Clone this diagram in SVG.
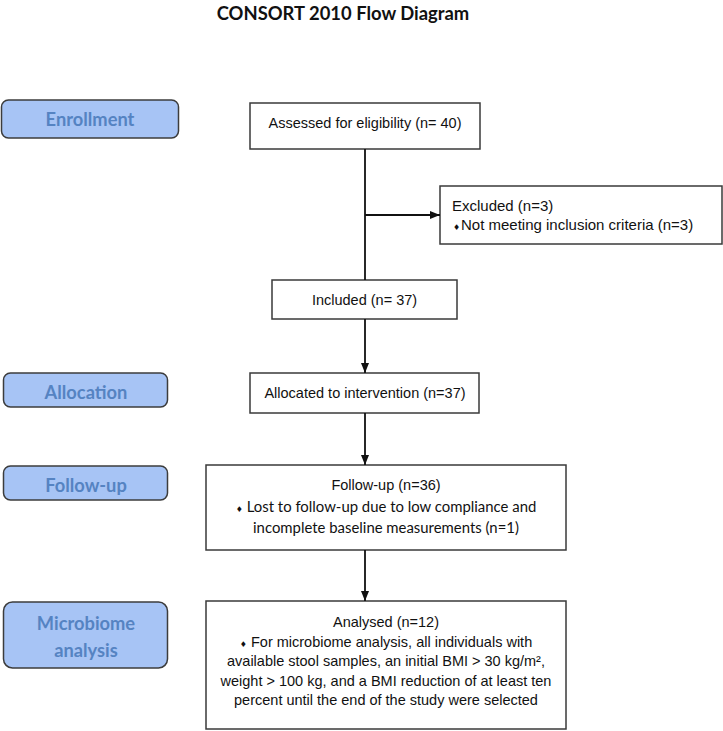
<svg xmlns="http://www.w3.org/2000/svg" width="723" height="731" viewBox="0 0 723 731">
<style>
.stage rect{fill:#a7c4f5;stroke:#3c3c3c;stroke-width:1.5}
.stage text{font-family:Lato,"Open Sans",sans-serif;font-weight:700;font-size:18.3px;fill:#5583c2;text-anchor:middle}
.box rect{fill:#fff;stroke:#3a3a3a;stroke-width:1.5}
.box text{font-family:"Liberation Sans",Arial,sans-serif;font-size:14.5px;fill:#111}
.box text.exc{font-size:15px}
.box text.cal{font-family:Lato,"Open Sans",sans-serif;font-size:14.9px}
.mid{text-anchor:middle}
.dia{font-family:"DejaVu Sans",sans-serif;font-size:8px}
.conn line{stroke:#111;stroke-width:1.8;fill:none}
.title{font-family:Lato,"Open Sans",sans-serif;font-weight:700;font-size:18.4px;fill:#111;text-anchor:middle}
</style>
<defs>
<marker id="ah" markerUnits="userSpaceOnUse" markerWidth="10" markerHeight="10" viewBox="0 0 10 10" refX="10" refY="5" orient="auto">
<path d="M0,1 L10,5 L0,9 z" fill="#111"/>
</marker>
</defs>
<text class="title" x="343" y="20">CONSORT 2010 Flow Diagram</text>

<g id="stage-enrollment" class="stage"><rect x="1.5" y="100" width="177" height="38" rx="7"/><text x="90" y="125.5">Enrollment</text></g>
<g id="stage-allocation" class="stage"><rect x="3.5" y="373" width="164" height="34" rx="7"/><text x="86" y="398.5">Allocation</text></g>
<g id="stage-followup" class="stage"><rect x="3.5" y="466" width="164" height="34" rx="7"/><text x="86" y="491.5">Follow-up</text></g>
<g id="stage-microbiome" class="stage"><rect x="3.5" y="602" width="164" height="66" rx="9"/><text x="86" y="629.5">Microbiome</text><text x="86" y="656.5">analysis</text></g>

<g id="assessed" class="box"><rect x="250" y="103" width="230" height="46"/><text class="mid" x="365" y="128">Assessed for eligibility (n= 40)</text></g>
<g id="excluded" class="box"><rect x="440" y="186" width="282" height="58"/><text class="exc" x="452" y="211">Excluded (n=3)</text><text class="exc" x="453" y="230"><tspan class="dia">♦</tspan><tspan x="461">Not meeting inclusion criteria (n=3)</tspan></text></g>
<g id="included" class="box"><rect x="272" y="280" width="185" height="39"/><text class="mid" x="364.5" y="305">Included (n= 37)</text></g>
<g id="allocated" class="box"><rect x="250" y="373" width="229" height="40"/><text class="mid" x="365" y="398">Allocated to intervention (n=37)</text></g>
<g id="followup" class="box"><rect x="206" y="465" width="360" height="85"/><text class="mid" x="386" y="490">Follow-up (n=36)</text><text class="mid cal" x="386" y="511.5"><tspan class="dia">♦</tspan> Lost to follow-up due to low compliance and</text><text class="mid cal" x="386" y="533">incomplete baseline measurements (n=1)</text></g>
<g id="analysed" class="box"><rect x="206" y="601" width="360" height="128"/><text class="mid" x="386" y="627">Analysed (n=12)</text><text class="mid" x="386" y="646.5"><tspan class="dia">♦</tspan> For microbiome analysis, all individuals with</text><text class="mid" x="386" y="666">available stool samples, an initial BMI &gt; 30 kg/m², </text><text class="mid" x="386" y="685.5">weight &gt; 100 kg, and a BMI reduction of at least ten</text><text class="mid" x="386" y="705">percent until the end of the study were selected</text></g>

<g id="connectors" class="conn">
<line x1="365" y1="149" x2="365" y2="280"/>
<line x1="365" y1="215" x2="440" y2="215" marker-end="url(#ah)"/>
<line x1="365" y1="319" x2="365" y2="373" marker-end="url(#ah)"/>
<line x1="365" y1="413" x2="365" y2="465" marker-end="url(#ah)"/>
<line x1="365" y1="550" x2="365" y2="601" marker-end="url(#ah)"/>
</g>
</svg>
